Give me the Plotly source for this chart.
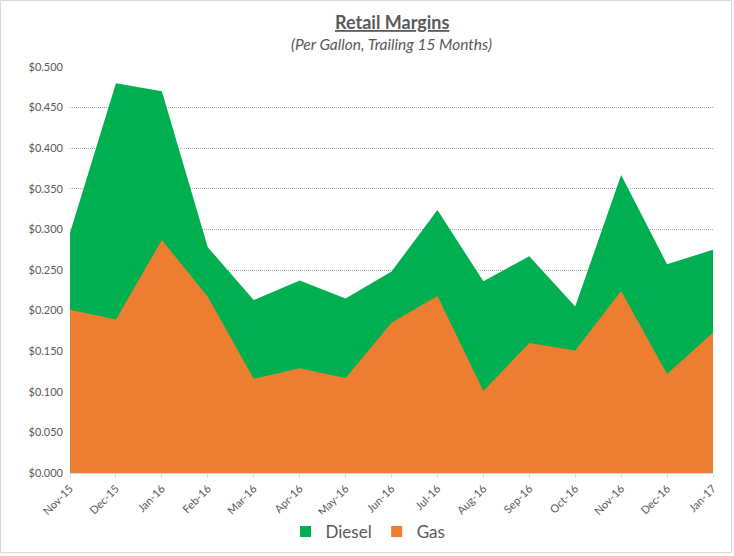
import plotly.graph_objects as go

months = ["Nov-15", "Dec-15", "Jan-16", "Feb-16", "Mar-16", "Apr-16", "May-16", "Jun-16",
          "Jul-16", "Aug-16", "Sep-16", "Oct-16", "Nov-16", "Dec-16", "Jan-17"]
diesel = [0.296, 0.480, 0.470, 0.278, 0.213, 0.237, 0.215, 0.248,
          0.324, 0.236, 0.267, 0.205, 0.367, 0.257, 0.275]
gas = [0.201, 0.189, 0.287, 0.217, 0.116, 0.129, 0.117, 0.185,
       0.218, 0.101, 0.160, 0.151, 0.224, 0.122, 0.173]
ytick_vals = [0.0, 0.05, 0.1, 0.15, 0.2, 0.25, 0.3, 0.35, 0.4, 0.45, 0.5]

W, H = 734, 556
L, R, T, B = 70, 21, 67, 83
pw, ph = W - L - R, H - T - B

GREEN, ORANGE = "#00B050", "#ED7D31"

fig = go.Figure()
fig.add_trace(go.Scatter(x=months, y=diesel, name="Diesel", mode="lines",
                         line=dict(width=0, color=GREEN), fill="tozeroy",
                         fillcolor=GREEN, showlegend=False))
fig.add_trace(go.Scatter(x=months, y=gas, name="Gas", mode="lines",
                         line=dict(width=0, color=ORANGE), fill="tozeroy",
                         fillcolor=ORANGE, showlegend=False))
# legend entries with square swatches
for nm, col in [("Diesel", GREEN), ("Gas", ORANGE)]:
    fig.add_trace(go.Scatter(x=[None], y=[None], name=nm, mode="markers",
                             marker=dict(symbol="square", size=11, color=col),
                             showlegend=True))

fig.update_layout(
    width=W, height=H,
    margin=dict(l=L, r=R, t=T, b=B),
    paper_bgcolor="white", plot_bgcolor="white",
    font=dict(family="Lato, 'Open Sans', sans-serif", color="#595959"),
    showlegend=True,
    legend=dict(orientation="h", x=368 / W, xanchor="center", xref="container",
                y=1 - 532 / H, yref="container", yanchor="middle",
                font=dict(size=17, color="#595959"),
                traceorder="normal", itemwidth=30, tracegroupgap=0),
    xaxis=dict(type="category", range=[0, len(months) - 1], showgrid=False,
               tickangle=-45, tickfont=dict(size=11, color="#595959"),
               ticks="outside", ticklen=4, tickcolor="#d9d9d9",
               showline=True, linecolor="#d9d9d9", linewidth=1, automargin=False),
    yaxis=dict(range=[0, 0.5], tickvals=ytick_vals, tickformat="$.3f",
               tickfont=dict(size=11, color="#595959"),
               showgrid=True, gridcolor="#a6a6a6", griddash="1px,1px", gridwidth=1,
               zeroline=False, showline=False, ticks="", ticklabelstandoff=6,
               automargin=False),
    annotations=[
        dict(text="<b><u>Retail Margins</u></b>", xref="paper", yref="paper",
             x=(392 - L) / pw, y=1 + (T - 22) / ph, xanchor="center", yanchor="middle",
             showarrow=False, font=dict(size=18, color="#595959")),
        dict(text="<i>(Per Gallon, Trailing 15 Months)</i>", xref="paper", yref="paper",
             x=(391 - L) / pw, y=1 + (T - 44) / ph, xanchor="center", yanchor="middle",
             showarrow=False, font=dict(size=15.5, color="#595959")),
    ],
    shapes=[dict(type="rect", xref="paper", yref="paper",
                 x0=-(L - 0.5) / pw, x1=1 + (R - 2.5) / pw,
                 y0=-(B - 3.5) / ph, y1=1 + (T - 0.5) / ph,
                 line=dict(color="#d9d9d9", width=1), layer="below")],
)

fig.write_html("out.html")
